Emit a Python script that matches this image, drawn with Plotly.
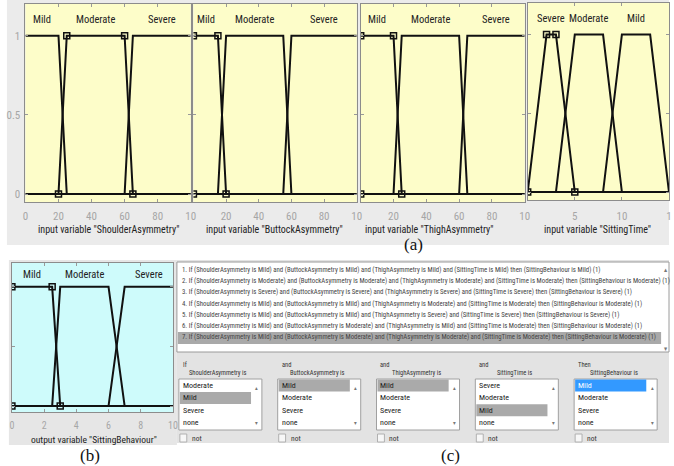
import plotly.graph_objects as go

W, H = 674, 466

# ---------------- data ----------------
asym_labels = ["Mild", "Moderate", "Severe"]
shoulder_params = [[0, 0, 20, 25], [20, 25, 60, 65], [60, 65, 100, 100]]
buttock_params = [[0, 0, 15, 20], [15, 20, 55, 60], [55, 60, 100, 100]]
thigh_params = [[0, 0, 20, 25], [20, 25, 60, 65], [60, 65, 100, 100]]
sitting_time_labels = ["Severe", "Moderate", "Mild"]
sitting_time_params = [[0, 2, 3, 5], [3, 5, 8, 10], [8, 10, 13, 15]]
behaviour_labels = ["Mild", "Moderate", "Severe"]
behaviour_params = [[0, 0, 2.5, 3], [2.5, 3, 6, 7], [6, 7, 10, 10]]

ticks_first = [0, 20, 40, 60, 80, 100]
ticktext_first = ["0", "20", "40", "60", "80", "10"]
ticks_next = [20, 40, 60, 80, 100]
ticktext_next = ["20", "40", "60", "80", "10"]
ticks_time = [5, 10, 15]
ticktext_time = ["5", "10", "1"]
ticks_out = [0, 2, 4, 6, 8, 10]
ticktext_out = ["0", "2", "4", "6", "8", "10"]
y_ticks = [0, 0.5, 1]
y_ticktext = ["0", "0.5", "1"]

var_titles = ['input variable "ShoulderAsymmetry"', 'input variable "ButtockAsymmetry"',
              'input variable "ThighAsymmetry"', 'input variable "SittingTime"']
out_title = 'output variable "SittingBehaviour"'

rule_shoulder = ["Mild", "Moderate", "Severe", "Mild", "Mild", "Mild", "Mild"]
rule_buttock = ["Mild", "Moderate", "Severe", "Mild", "Mild", "Moderate", "Moderate"]
rule_thigh = ["Mild", "Moderate", "Severe", "Moderate", "Severe", "Mild", "Moderate"]
rule_time = ["Mild", "Moderate", "Severe", "Moderate", "Severe", "Moderate", "Moderate"]
rule_out = ["Mild", "Moderate", "Severe", "Moderate", "Severe", "Moderate", "Moderate"]
rule_weight = [1, 1, 1, 1, 1, 1, 1]

group_heads = ["If", "and", "and", "and", "Then"]
group_vars = ["ShoulderAsymmetry is", "ButtockAsymmetry is", "ThighAsymmetry is",
              "SittingTime is", "SittingBehaviour is"]
group_items = [["Moderate", "Mild", "Severe", "none"],
               ["Mild", "Moderate", "Severe", "none"],
               ["Mild", "Moderate", "Severe", "none"],
               ["Severe", "Moderate", "Mild", "none"],
               ["Mild", "Moderate", "Severe", "none"]]
group_selected = [1, 0, 0, 2, 0]

# ---------------- helpers ----------------
NARROW = "Liberation Sans Narrow, Arial Narrow, Roboto Condensed, DejaVu Sans Condensed, Liberation Sans, Arial, sans-serif"
SERIF = "Liberation Serif, Times New Roman, serif"


def px(x):
    return x / W


def py(y):
    return 1 - y / H


def trap(x, p):
    a, b, c, d = p
    if b <= x <= c:
        return 1.0
    if a < x < b:
        return (x - a) / (b - a)
    if c < x < d:
        return (d - x) / (d - c)
    return 0.0


fig = go.Figure()
shapes = []
ann = []


def rect(x0, y0, x1, y1, fill, line=None, lw=0, layer="below"):
    shapes.append(dict(type="rect", xref="paper", yref="paper", x0=px(x0), x1=px(x1),
                       y0=py(y1), y1=py(y0), fillcolor=fill, layer=layer,
                       line=dict(color=line or fill, width=lw)))


def text(x, y, s, size, color="#222", family=NARROW, xanchor="center", yanchor="middle"):
    ann.append(dict(x=px(x), y=py(y), xref="paper", yref="paper", text=s, showarrow=False,
                    font=dict(size=size, color=color, family=family),
                    xanchor=xanchor, yanchor=yanchor))


# backgrounds
rect(4, 0, 674, 245, "#ebebeb")
rect(6, 260, 176, 445, "#e6e6e6")
rect(176, 260, 674, 443, "#e3e3e3")

panels = [
    dict(xr=[0, 100], params=shoulder_params, labels=asym_labels, sel=1, box=(22.7, 4, 190, 202),
         tv=ticks_first, tt=ticktext_first, showy=True, bg="#fdfdc9", so=4, fs=11),
    dict(xr=[0, 100], params=buttock_params, labels=asym_labels, sel=0, box=(192.7, 4, 358, 202),
         tv=ticks_next, tt=ticktext_next, showy=False, bg="#fdfdc9", so=4, fs=11),
    dict(xr=[0, 100], params=thigh_params, labels=asym_labels, sel=0, box=(362, 4, 528, 202),
         tv=ticks_next, tt=ticktext_next, showy=False, bg="#fdfdc9", so=4, fs=11),
    dict(xr=[0, 15], params=sitting_time_params, labels=sitting_time_labels, sel=0, box=(531, 3, 674, 200),
         tv=ticks_time, tt=ticktext_time, showy=False, bg="#fdfdc9", so=6, fs=11),
    dict(xr=[0, 10], params=behaviour_params, labels=behaviour_labels, sel=0, box=(9, 263, 172, 412),
         tv=ticks_out, tt=ticktext_out, showy=False, bg="#cefbfb", so=4, fs=10),
]

layout_axes = {}
for i, pn in enumerate(panels):
    n = "" if i == 0 else str(i + 1)
    xa, ya = "x" + n, "y" + n
    x0, y0, x1, y1 = pn["box"]
    rect(x0, y0, x1, y1, pn["bg"])
    lo, hi = pn["xr"]
    for k, p in enumerate(pn["params"]):
        xs = sorted([lo] + [v for v in p if lo <= v <= hi] + [hi])
        ys = [trap(v, p) for v in xs]
        fig.add_trace(go.Scatter(x=xs, y=ys, mode="lines", xaxis=xa, yaxis=ya,
                                 line=dict(color="#111", width=2), showlegend=False,
                                 hoverinfo="skip"))
        if k == pn["sel"]:
            fig.add_trace(go.Scatter(x=list(p), y=[0, 1, 1, 0], mode="markers", xaxis=xa, yaxis=ya,
                                     marker=dict(symbol="square-open", size=6, color="#111",
                                                 line=dict(width=1.5)),
                                     showlegend=False, hoverinfo="skip"))
        fig.add_annotation(x=(p[1] + p[2]) / 2, y=1.1, xref=xa, yref=ya, text=pn["labels"][k],
                           showarrow=False, font=dict(size=10.5, color="#222", family=NARROW))
    layout_axes["xaxis" + n] = dict(domain=[px(x0), px(x1)], range=[lo, hi], anchor=ya,
                                    tickvals=pn["tv"], ticktext=pn["tt"], ticks="inside",
                                    ticklen=3, tickcolor="#999", showgrid=False, zeroline=False,
                                    showline=True, linecolor="#8c8c8c", linewidth=1, mirror="ticks",
                                    tickfont=dict(size=pn["fs"], color="#a6a6a6", family=NARROW),
                                    ticklabelstandoff=pn["so"], fixedrange=True)
    layout_axes["yaxis" + n] = dict(domain=[py(y1), py(y0)], range=[-0.05, 1.2], anchor=xa,
                                    tickvals=y_ticks, ticktext=y_ticktext, ticks="inside",
                                    ticklen=3, tickcolor="#999", showgrid=False, zeroline=False,
                                    showline=True, linecolor="#8c8c8c", linewidth=1, mirror="ticks",
                                    showticklabels=pn["showy"],
                                    tickfont=dict(size=11, color="#a6a6a6", family=NARROW),
                                    ticklabelstandoff=2, fixedrange=True)

# axis titles
for cx, t in zip([107, 275, 432, 602], var_titles):
    text(cx, 229, t, 10)
text(92, 439, out_title, 9.5)
text(415, 245, "(a)", 17, color="#111", family=SERIF)
text(88, 455, "(b)", 17, color="#111", family=SERIF)
text(453, 455, "(c)", 17, color="#111", family=SERIF)

# rule list box
rect(176, 262, 674, 352, "#ffffff", line="#9a9a9a", lw=1)
rect(177, 332, 666, 344, "#a9a9a9")
for i in range(7):
    s = (f"{i+1}. If (ShoulderAsymmetry is {rule_shoulder[i]}) and (ButtockAsymmetry is {rule_buttock[i]}) "
         f"and (ThighAsymmetry is {rule_thigh[i]}) and (SittingTime is {rule_time[i]}) then "
         f"(SittingBehaviour is {rule_out[i]}) ({rule_weight[i]})")
    text(179, 270 + i * 11.2, s, 6.8, color="#444", xanchor="left")
text(671, 270, "▴", 7, color="#777")
text(671, 349, "▾", 7, color="#777")

# list boxes
for g in range(5):
    L = 178 + 100 * g
    R = L + 84
    text(L + 2, 365, group_heads[g], 6.5, color="#333", xanchor="left")
    text(L + 40, 373, group_vars[g], 6.5, color="#333")
    rect(L, 379, R, 430, "#ffffff", line="#a0a0a0", lw=1)
    for k, it in enumerate(group_items[g]):
        yy = 385.5 + 12.4 * k
        if k == group_selected[g]:
            col = "#3399ff" if g == 4 else "#aaaaaa"
            rect(L + 1, yy - 6, R - 11, yy + 6, col)
        text(L + 2, yy, it, 8, color="#ffffff" if (g == 4 and k == group_selected[g]) else "#222",
             xanchor="left")
    text(R - 5, 387, "▴", 6, color="#777")
    text(R - 5, 422, "▾", 6, color="#777")
    rect(L + 1, 434, L + 8, 442, "#f7f7f7", line="#b0b0b0", lw=1)
    text(L + 11, 438, "not", 7.5, color="#333", xanchor="left")

fig.update_layout(width=W, height=H, margin=dict(l=0, r=0, t=0, b=0),
                  paper_bgcolor="#ffffff", plot_bgcolor="rgba(0,0,0,0)",
                  shapes=shapes, **layout_axes)
for a in ann:
    fig.add_annotation(**a)

fig.write_html("out.html", config={"displayModeBar": False},
               post_script="document.body.style.margin='0';document.body.style.overflow='hidden';")
